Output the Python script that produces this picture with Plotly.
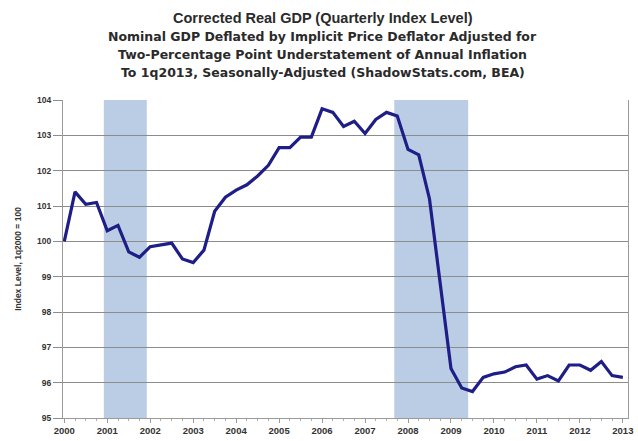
import plotly.graph_objects as go

# Quarterly data, 2000Q1 .. 2013Q1
start_year = 2000
values = [
    100.0, 101.4, 101.05, 101.1,      # 2000
    100.3, 100.45, 99.7, 99.55,       # 2001
    99.85, 99.9, 99.95, 99.5,         # 2002
    99.4, 99.75, 100.85, 101.25,      # 2003
    101.45, 101.6, 101.85, 102.15,    # 2004
    102.65, 102.65, 102.95, 102.95,   # 2005
    103.75, 103.65, 103.25, 103.4,    # 2006
    103.05, 103.45, 103.65, 103.55,   # 2007
    102.6, 102.45, 101.2, 98.8,       # 2008
    96.4, 95.85, 95.75, 96.15,        # 2009
    96.25, 96.3, 96.45, 96.5,         # 2010
    96.1, 96.2, 96.05, 96.5,          # 2011
    96.5, 96.35, 96.6, 96.2,          # 2012
    96.15,                            # 2013
]
x_quarters = [start_year + i / 4 for i in range(len(values))]

year_ticks = list(range(2000, 2014))
year_labels = [str(y) for y in year_ticks]
y_ticks = list(range(95, 105))

recessions = [(2000.92, 2001.92), (2007.68, 2009.40)]

title_lines = [
    "Corrected Real GDP (Quarterly Index Level)",
    "Nominal GDP Deflated by Implicit Price Deflator Adjusted for",
    "Two-Percentage Point Understatement of Annual Inflation",
    "To 1q2013, Seasonally-Adjusted (ShadowStats.com, BEA)",
]

fig = go.Figure()
fig.add_trace(go.Scatter(
    x=x_quarters, y=values, mode="lines",
    line=dict(color="#1e1e86", width=3.2),
    hoverinfo="skip", showlegend=False,
))

for x0, x1 in recessions:
    fig.add_shape(type="rect", xref="x", yref="paper", x0=x0, x1=x1, y0=0, y1=1,
                  fillcolor="#bacde5", line=dict(width=0), layer="between")

font = "Liberation Sans, Arial, sans-serif"
wide = "DejaVu Sans, Verdana, sans-serif"
ys = [18, 37, 55, 73]
sizes = [14.5, 12.5, 12.5, 12.5]
fams = [font, wide, wide, wide]
for txt, yy, sz, fm in zip(title_lines, ys, sizes, fams):
    fig.add_annotation(text="<b>" + txt + "</b>", xref="paper", yref="paper",
                       x=0.46, y=1 + (100 - yy) / 318, yanchor="middle", xanchor="center",
                       showarrow=False, font=dict(family=fm, size=sz, color="#2a2a2a"))

fig.update_layout(
    width=638, height=441,
    margin=dict(l=63, r=10, t=100, b=23),
    paper_bgcolor="white", plot_bgcolor="white",
    font=dict(family=font, color="#333333"),
    showlegend=False,
)
fig.update_xaxes(
    range=[1999.97, 2013.12], tickmode="array", tickvals=year_ticks,
    ticktext=["<b>%s</b>" % s for s in year_labels],
    showgrid=False, zeroline=False, showline=True, linecolor="#9a9a9a", linewidth=1,
    ticks="outside", ticklen=4, tickcolor="#9a9a9a", automargin=False,
    minor=dict(dtick=0.25, tick0=2000, ticks="outside", ticklen=2, tickcolor="#b0b0b0"),
    tickfont=dict(size=9.5, color="#333333", family=font), mirror=False,
)
fig.update_yaxes(
    range=[95, 104], tickmode="array", tickvals=y_ticks,
    ticktext=["<b>%d</b>" % v for v in y_ticks],
    showgrid=True, gridcolor="#8c8c8c", gridwidth=1, zeroline=False,
    showline=True, linecolor="#9a9a9a", linewidth=1, mirror=True,
    ticks="outside", ticklen=9, tickcolor="#8c8c8c", automargin=False,
    tickfont=dict(size=8.5, color="#333333", family=font),
    title=dict(text="<b>Index Level, 1q2000 = 100</b>", font=dict(size=8.5, color="#333333", family=font), standoff=14),
)

fig.write_html("out.html", config={"displayModeBar": False},
               post_script="document.body.style.margin='0px';")
